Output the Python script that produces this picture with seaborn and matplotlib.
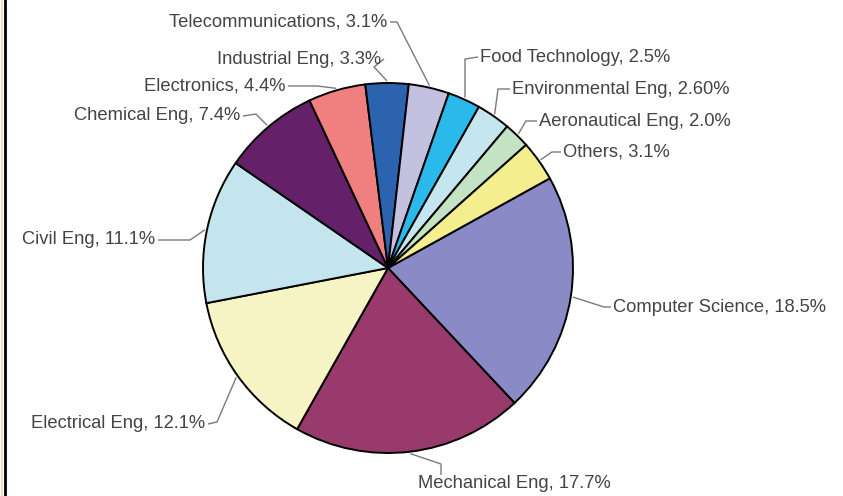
import matplotlib
matplotlib.use("Agg")
import matplotlib.pyplot as plt
from matplotlib.lines import Line2D
import numpy as np
import seaborn as sns

# --- data (clockwise from Computer Science) ---
fields = ["Computer Science", "Mechanical Eng", "Electrical Eng", "Civil Eng",
          "Chemical Eng", "Electronics", "Industrial Eng", "Telecommunications",
          "Food Technology", "Environmental Eng", "Aeronautical Eng", "Others"]
shares = [18.5, 17.7, 12.1, 11.1, 7.4, 4.4, 3.3, 3.1, 2.5, 2.6, 2.0, 3.1]
share_text = ["18.5%", "17.7%", "12.1%", "11.1%", "7.4%", "4.4%", "3.3%",
              "3.1%", "2.5%", "2.60%", "2.0%", "3.1%"]
colors = ["#8a8ac6", "#983a6c", "#f6f4c4", "#c4e5ee", "#65206a", "#f08080",
          "#2b63ae", "#c3c0e0", "#29b9ea", "#c6e6ef", "#c4e2c4", "#f4ee8e"]

# --- layout (pixel coords, y down): text anchor, alignment, leader elbow ---
W, H = 843, 496
cx, cy, R = 388, 268, 185
label_layout = [
    ((613, 307), "left", "center", (604, 307)),
    ((514, 484), "center", "center", (441, 464)),
    ((205, 424), "right", "center", (217, 422)),
    ((155, 240), "right", "center", (190, 240)),
    ((240, 116), "right", "center", (256, 114)),
    ((285, 86), "right", "center", (317, 86)),
    ((381, 59), "right", "center", (374, 67)),
    ((387, 22), "right", "center", (397, 22)),
    ((480, 57), "left", "center", (465, 59)),
    ((512, 89), "left", "center", (498, 89)),
    ((539, 121), "left", "center", (526, 121)),
    ((563, 152), "left", "center", (552, 152)),
]

sns.set_theme(style="white")
plt.rcParams["font.family"] = ["Liberation Sans", "DejaVu Sans"]

fig = plt.figure(figsize=(W / 100, H / 100), dpi=100)
ax = fig.add_axes([0, 0, 1, 1])

wedges, _ = ax.pie(shares, colors=colors, startangle=29, counterclock=False,
                   center=(cx, H - cy), radius=R,
                   wedgeprops=dict(edgecolor="black", linewidth=1.4))
ax.set_xlim(0, W)
ax.set_ylim(0, H)
ax.set_aspect("auto")
ax.axis("off")

for w, name, pct, (pos, ha, va, elbow) in zip(wedges, fields, share_text, label_layout):
    mid = np.deg2rad((w.theta1 + w.theta2) / 2)
    ex, ey = cx + (R + 2) * np.cos(mid), (H - cy) + (R + 2) * np.sin(mid)
    tx, ty = pos
    if ha == "right":
        end = (tx + 3, H - ty)
    elif ha == "left":
        end = (tx - 2, H - ty)
    else:
        end = (elbow[0], H - ty + 9)
    ax.plot([ex, elbow[0], end[0]], [ey, H - elbow[1], end[1]],
            color="#7a7a7a", lw=1.0, solid_capstyle="butt")
    ax.text(tx, H - ty, f"{name}, {pct}", ha=ha, va=va,
            fontsize=13.2, color="#444444")

# left frame edge
fig.add_artist(Line2D([1.5 / W, 1.5 / W], [0, 1], transform=fig.transFigure,
                      color="#f0e0c0", lw=1.5))
fig.add_artist(Line2D([4.5 / W, 4.5 / W], [0, 1], transform=fig.transFigure,
                      color="black", lw=2))

fig.savefig("out.png", dpi=100)
